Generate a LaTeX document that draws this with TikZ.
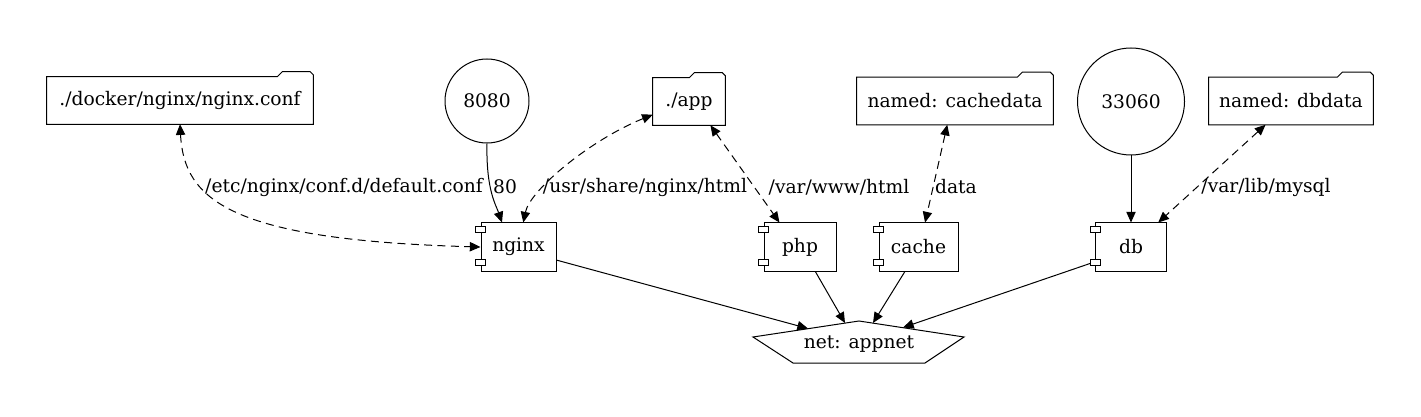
\documentclass[tikz,border=0pt]{standalone}
\usepackage{fontspec}
\setmainfont{DejaVu Serif}
\usetikzlibrary{arrows.meta,calc}
\newcommand\drawfolder[1]{%
  \draw[line width=0.75pt] (#1.south west) -- (#1.north west) -- ($(#1.north east)+(-36,0)$) -- ($(#1.north east)+(-31,-5)$) -- ($(#1.north east)+(-3,-5)$) -- ($(#1.north east)+(0,-2)$) -- (#1.south east) -- cycle;}
\begin{document}
\begin{tikzpicture}[x=0.75pt,y=-0.75pt,
  every node/.style={font=\fontsize{14pt}{17pt}\selectfont, inner sep=0pt},
  folderbox/.style={minimum height=35.25pt},
  comp/.style={draw, line width=0.75pt, minimum height=36pt},
  port/.style={draw, circle, line width=0.75pt},
  link/.style={line width=0.75pt, -{Triangle[length=8pt,width=7pt]}},
  vol/.style={line width=0.75pt, dash pattern=on 6pt off 4pt, {Triangle[length=8pt,width=7pt]}-{Triangle[length=8pt,width=7pt]}}]
\useasboundingbox (0,0) rectangle (1421,417);
% top row
\node[folderbox, minimum width=199.5pt] (conf) at (180,100.5) {./docker/nginx/nginx.conf};
\node[port, minimum size=63pt] (p8080) at (487,101) {8080};
\node[folderbox, minimum width=54pt] (app) at (689,101.5) {./app};
\node[folderbox, minimum width=147pt] (cachedata) at (955,101) {named: cachedata};
\node[port, minimum size=80.25pt] (p33060) at (1131,101.5) {33060};
\node[folderbox, minimum width=123pt] (dbdata) at (1291,101) {named: dbdata};
\drawfolder{conf}
\drawfolder{app}
\drawfolder{cachedata}
\drawfolder{dbdata}
% components
\node[comp, minimum width=56.25pt] (nginx) at (518.5,247) {nginx};
\node[comp, minimum width=54pt] (php) at (800,247) {php};
\node[comp, minimum width=59.25pt] (cache) at (918.5,247) {cache};
\node[comp, minimum width=53.25pt] (db) at (1131,247) {db};
\foreach \n in {nginx,php,cache,db}{
  \draw[fill=white, line width=0.75pt] ($(\n.north west)+(-5,4)$) rectangle ($(\n.north west)+(5,10)$);
  \draw[fill=white, line width=0.75pt] ($(\n.south west)+(-5,-12)$) rectangle ($(\n.south west)+(5,-6)$);
}
% network
\node (net) at (859,344) {net: appnet};
\draw[line width=0.75pt] ($(net)+(-106,-7)$) -- ($(net)+(0,-23)$) -- ($(net)+(105,-7)$) -- ($(net)+(66,19)$) -- ($(net)+(-66,19)$) -- cycle;
\coordinate (netA) at ($(net)+(-51,-15.5)$);
\coordinate (netB) at ($(net)+(-14,-21)$);
\coordinate (netC) at ($(net)+(14,-21)$);
\coordinate (netD) at ($(net)+(44,-16.5)$);
\coordinate (dbport) at ($(db.south west)+(-5,-8)$);
% volumes
\draw[vol] (conf.south) .. controls (184,200) and (230,240) .. (nginx.west);
\node at (344,187) {/etc/nginx/conf.d/default.conf};
\draw[vol] (app.200) .. controls (590,140) and (530,190) .. (nginx.79);
\node at (645,187) {/usr/share/nginx/html};
\draw[vol] (app.312) -- (php.130);
\node at (839,187) {/var/www/html};
\draw[vol] (cachedata.252) -- (cache.75);
\node at (956,187) {data};
\draw[vol] (dbdata.223) -- (db.42);
\node at (1266,187) {/var/lib/mysql};
% ports
\draw[link] (p8080.south) .. controls (486,190) and (496,205) .. (nginx.124);
\node at (505,187) {80};
\draw[link] (p33060.south) -- (db.north);
% networks
\draw[link] (nginx.341) -- (netA);
\draw[link] (php.302) -- (netB);
\draw[link] (cache.241) -- (netC);
\draw[link] (dbport) -- (netD);
\end{tikzpicture}
\end{document}
